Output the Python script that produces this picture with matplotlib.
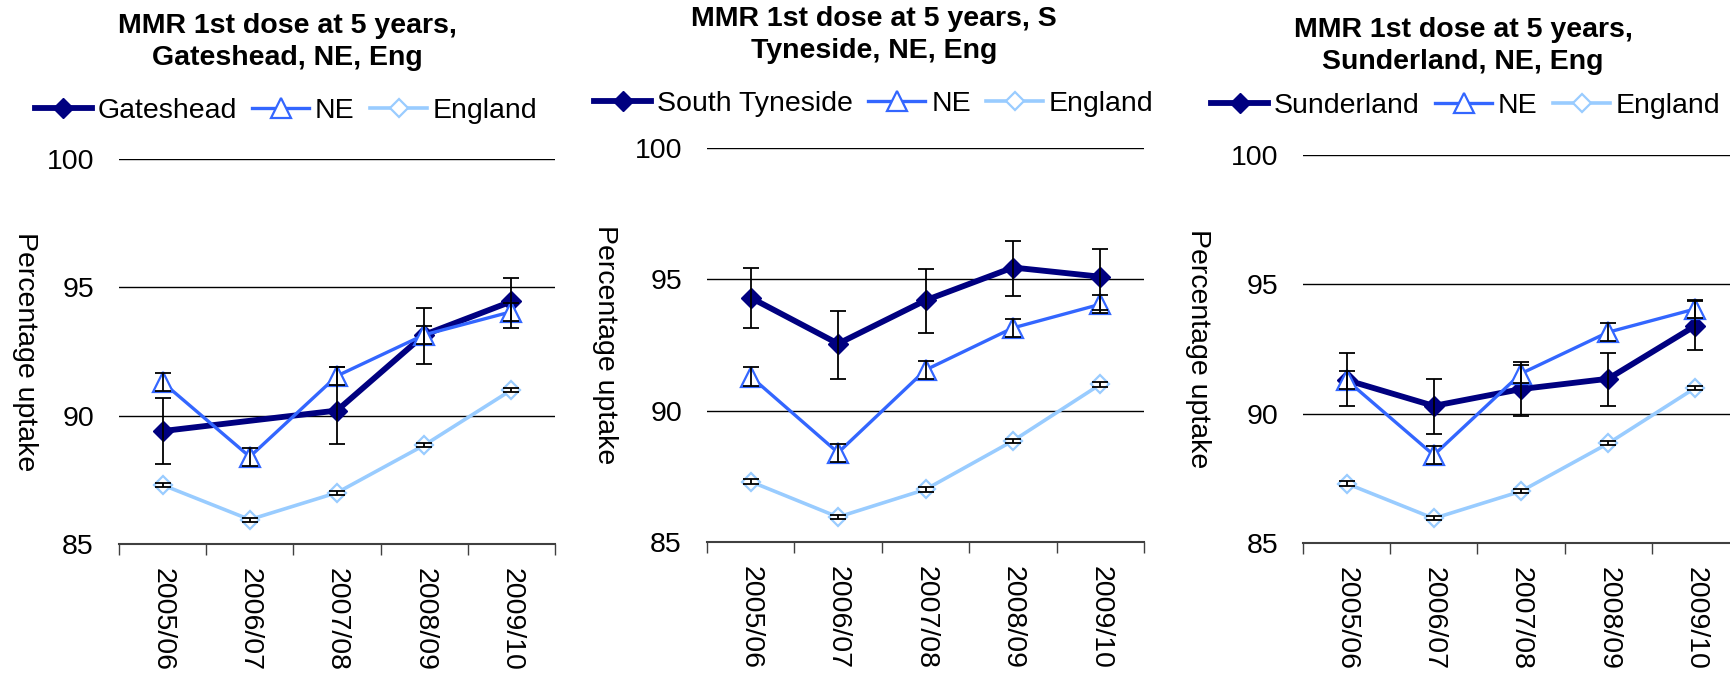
import numpy as np
import matplotlib.pyplot as plt

plt.rcParams['font.family'] = ['Liberation Sans', 'DejaVu Sans']

years = ['2005/06', '2006/07', '2007/08', '2008/09', '2009/10']

# regional and national series (same on every panel)
ne = np.array([91.3, 88.4, 91.55, 93.15, 94.05])
ne_err = 0.35
england = np.array([87.3, 85.95, 87.0, 88.85, 91.0])
england_err = 0.08

# local authorities: value, lower and upper CI
gateshead = np.array([89.4, np.nan, 90.2, 93.15, 94.45])
gateshead_lo = np.array([88.1, np.nan, 88.9, 92.0, 93.4])
gateshead_hi = np.array([90.7, np.nan, 91.9, 94.2, 95.35])

s_tyneside = np.array([94.3, 92.55, 94.2, 95.45, 95.1])
s_tyneside_lo = np.array([93.15, 91.2, 92.95, 94.35, 93.85])
s_tyneside_hi = np.array([95.45, 93.8, 95.4, 96.45, 96.15])

sunderland = np.array([91.3, 90.3, 90.95, 91.35, 93.4])
sunderland_lo = np.array([90.3, 89.2, 89.9, 90.3, 92.45])
sunderland_hi = np.array([92.35, 91.35, 92.0, 92.35, 94.35])

panels = [
    ('Gateshead', 'MMR 1st dose at 5 years,\nGateshead, NE, Eng',
     gateshead, gateshead_lo, gateshead_hi),
    ('South Tyneside', 'MMR 1st dose at 5 years, S\nTyneside, NE, Eng',
     s_tyneside, s_tyneside_lo, s_tyneside_hi),
    ('Sunderland', 'MMR 1st dose at 5 years,\nSunderland, NE, Eng',
     sunderland, sunderland_lo, sunderland_hi),
]

# layout in pixels: axes (left, top, right, bottom), title centre, legend centre, ylabel x
W, H = 1731, 678
axes_px = [(119, 159, 555, 544), (707, 148, 1144, 542), (1303, 155, 1739, 543)]
title_px = [(287, 42), (874, 35), (1463, 46)]
legend_px = [(286, 111), (874, 104), (1466, 106)]
ylabel_x = [25, 605, 1198]

c_local = '#000080'
c_ne = '#3366FF'
c_eng = '#99CCFF'

fig = plt.figure(figsize=(W / 100, H / 100), dpi=100)
x = np.arange(len(years)) + 0.5

for i, (name, title, vals, lo, hi) in enumerate(panels):
    l, t, r, b = axes_px[i]
    ax = fig.add_axes([l / W, 1 - b / H, (r - l) / W, (b - t) / H])

    m = ~np.isnan(vals)
    h1, = ax.plot(x[m], vals[m], color=c_local, lw=4.2, marker='D', ms=10,
                  zorder=3, label=name)
    h2, = ax.plot(x, ne, color=c_ne, lw=2.4, marker='^', ms=14, mfc='white',
                  mec=c_ne, mew=1.6, zorder=4, label='NE')
    h3, = ax.plot(x, england, color=c_eng, lw=2.6, marker='D', ms=9,
                  mfc='white', mec=c_eng, mew=1.6, zorder=4, label='England')

    eb = dict(fmt='none', ecolor='black', elinewidth=1.3, capsize=6,
              capthick=1.3, zorder=6)
    ax.errorbar(x[m], vals[m], yerr=[vals[m] - lo[m], hi[m] - vals[m]], **eb)
    ax.errorbar(x, ne, yerr=ne_err, **eb)
    ax.errorbar(x, england, yerr=england_err, **eb)

    ax.set_xlim(0, 5)
    ax.set_ylim(85, 100)
    ax.set_yticks([85, 90, 95, 100])
    ax.yaxis.grid(True, color='black', lw=1)
    ax.set_axisbelow(True)
    for s in ['left', 'right', 'top']:
        ax.spines[s].set_visible(False)
    ax.spines['bottom'].set_color('#404040')
    ax.spines['bottom'].set_linewidth(1.5)
    ax.tick_params(axis='y', length=0, pad=18, labelsize=20.5)

    ax.set_xticks(np.arange(6))
    ax.set_xticklabels([])
    ax.tick_params(axis='x', which='major', length=8, width=1, color='#404040')
    ax.set_xticks(x, years, minor=True)
    ax.tick_params(axis='x', which='minor', length=0, pad=17, labelsize=20.5,
                   labelrotation=270)

    fig.text(ylabel_x[i] / W, 1 - ((t + b) / 2) / H, 'Percentage uptake',
             rotation=270, ha='center', va='center', fontsize=20.5)

    tx, ty = title_px[i]
    fig.text(tx / W, 1 - ty / H, title, ha='center', va='center',
             fontsize=20.5, fontweight='bold', linespacing=1.3)

    lx, ly = legend_px[i]
    fig.legend(handles=[h1, h2, h3], loc='center',
               bbox_to_anchor=(lx / W, 1 - ly / H), ncol=3, frameon=False,
               fontsize=20.5, numpoints=1, handlelength=2.0, handletextpad=0.2,
               columnspacing=0.55, borderpad=0, borderaxespad=0)

fig.savefig('out.png', dpi=100)
